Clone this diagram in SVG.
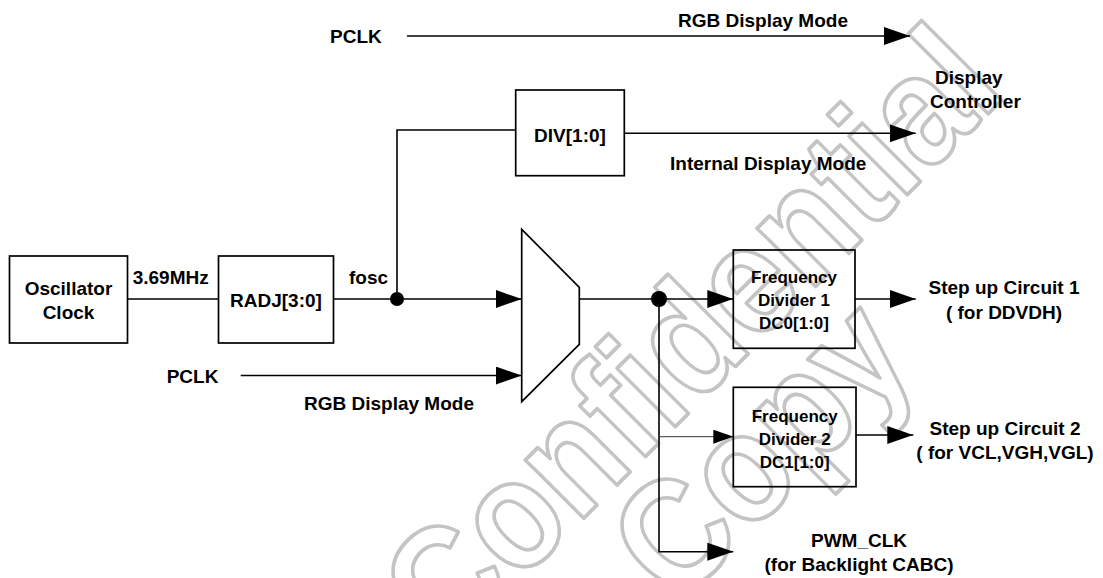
<svg xmlns="http://www.w3.org/2000/svg" width="1103" height="578" viewBox="0 0 1103 578">
<style>
.bg{fill:#fff}
.box{fill:none;stroke:#000;stroke-width:1.7}
.ln{fill:none;stroke:#000;stroke-width:1.6}
.thin{fill:none;stroke:#333;stroke-width:1}
.t{font-family:"Liberation Sans",Arial,sans-serif;font-weight:bold;font-size:19px;fill:#000}
.s{font-family:"Liberation Sans",Arial,sans-serif;font-weight:bold;font-size:17px;fill:#000}
.m{text-anchor:middle}
.wm{font-family:"Liberation Sans",Arial,sans-serif;font-weight:bold;font-size:156px;fill:none;stroke:#c4c4c4;stroke-width:3.8;stroke-linejoin:round;text-anchor:middle}
</style>
<defs>
<marker id="ah" markerUnits="userSpaceOnUse" markerWidth="26" markerHeight="18" refX="26" refY="9" orient="auto">
<path d="M0,0 L26,9 L0,18 z" fill="#000"/>
</marker>
<marker id="ahs" markerUnits="userSpaceOnUse" markerWidth="20" markerHeight="14" refX="20" refY="7" orient="auto">
<path d="M0,0 L20,7 L0,14 z" fill="#000"/>
</marker>
</defs>
<rect class="bg" x="0" y="0" width="1103" height="578"/>
<g id="watermark">
<text class="wm" transform="translate(728,374) rotate(-45) scale(0.88,1)">Confidential</text>
<text class="wm" transform="translate(798,486) rotate(-45) scale(0.88,1)">Copy</text>
</g>
<g id="connectors">
<line class="ln" x1="407" y1="36" x2="910" y2="36" marker-end="url(#ah)"/>
<polyline class="ln" points="397,299 397,130 515.7,130"/>
<line class="ln" x1="624.3" y1="133.3" x2="915.7" y2="133.3" marker-end="url(#ah)"/>
<line class="ln" x1="127.7" y1="299" x2="218.3" y2="299"/>
<line class="ln" x1="333.3" y1="299" x2="521.7" y2="299" marker-end="url(#ah)"/>
<circle cx="397" cy="299" r="7" fill="#000"/>
<line class="ln" x1="240.7" y1="375.5" x2="521.7" y2="375.5" marker-end="url(#ah)"/>
<line class="ln" x1="579.3" y1="299" x2="733.3" y2="299" marker-end="url(#ah)"/>
<circle cx="659" cy="299" r="8" fill="#000"/>
<polyline class="ln" points="659,299 659,551.7 733.3,551.7" marker-end="url(#ah)"/>
<line class="thin" x1="659" y1="436.7" x2="733.3" y2="436.7" marker-end="url(#ahs)"/>
<line class="ln" x1="855" y1="299" x2="915.7" y2="299" marker-end="url(#ah)"/>
<line class="ln" x1="856" y1="435" x2="913.3" y2="435" marker-end="url(#ah)"/>
</g>
<g id="pclk-top"><text class="t" x="330" y="43">PCLK</text></g>
<g id="rgb-top"><text class="t" x="678" y="27">RGB Display Mode</text></g>
<g id="display-controller">
<text class="t" x="935" y="84">Display</text>
<text class="t" x="930" y="107.5">Controller</text>
</g>
<g id="div"><rect class="box" x="515.7" y="90" width="108.6" height="85.7"/><text class="t m" x="570" y="142">DIV[1:0]</text></g>
<g id="internal"><text class="t" x="670" y="170">Internal Display Mode</text></g>
<g id="osc"><rect class="box" x="9.5" y="256" width="118" height="87"/>
<text class="t m" x="68.5" y="294.5">Oscillator</text><text class="t m" x="68.5" y="318.5">Clock</text></g>
<g id="freq"><text class="t" x="132.7" y="283.5">3.69MHz</text></g>
<g id="radj"><rect class="box" x="218.5" y="256" width="115" height="87"/><text class="t m" x="276" y="306.7">RADJ[3:0]</text></g>
<g id="fosc"><text class="t" x="349" y="283.5">fosc</text></g>
<g id="pclk-low"><text class="t" x="166.7" y="383">PCLK</text></g>
<g id="rgb-low"><text class="t" x="304" y="410">RGB Display Mode</text></g>
<g id="mux"><polygon class="box" points="521.7,229.3 579.3,287.3 579.3,344.3 521.7,401.7"/></g>
<g id="fd1"><rect class="box" x="733.3" y="250" width="121.7" height="98.3"/>
<text class="s m" x="794" y="283.3">Frequency</text><text class="s m" x="794" y="306">Divider 1</text><text class="s m" x="794" y="329.3">DC0[1:0]</text></g>
<g id="step1"><text class="t m" x="1004" y="293.5">Step up Circuit 1</text><text class="t m" x="1004" y="318.5">( for DDVDH)</text></g>
<g id="fd2"><rect class="box" x="733.3" y="387.3" width="122.7" height="99.4"/>
<text class="s m" x="794.7" y="421.7">Frequency</text><text class="s m" x="794.7" y="445">Divider 2</text><text class="s m" x="794.7" y="467.5">DC1[1:0]</text></g>
<g id="step2"><text class="t m" x="1005" y="435">Step up Circuit 2</text><text class="t m" x="1005" y="459.3">( for VCL,VGH,VGL)</text></g>
<g id="pwm"><text class="t m" x="859" y="546.7">PWM_CLK</text><text class="t m" x="859" y="570.7">(for Backlight CABC)</text></g>
</svg>
